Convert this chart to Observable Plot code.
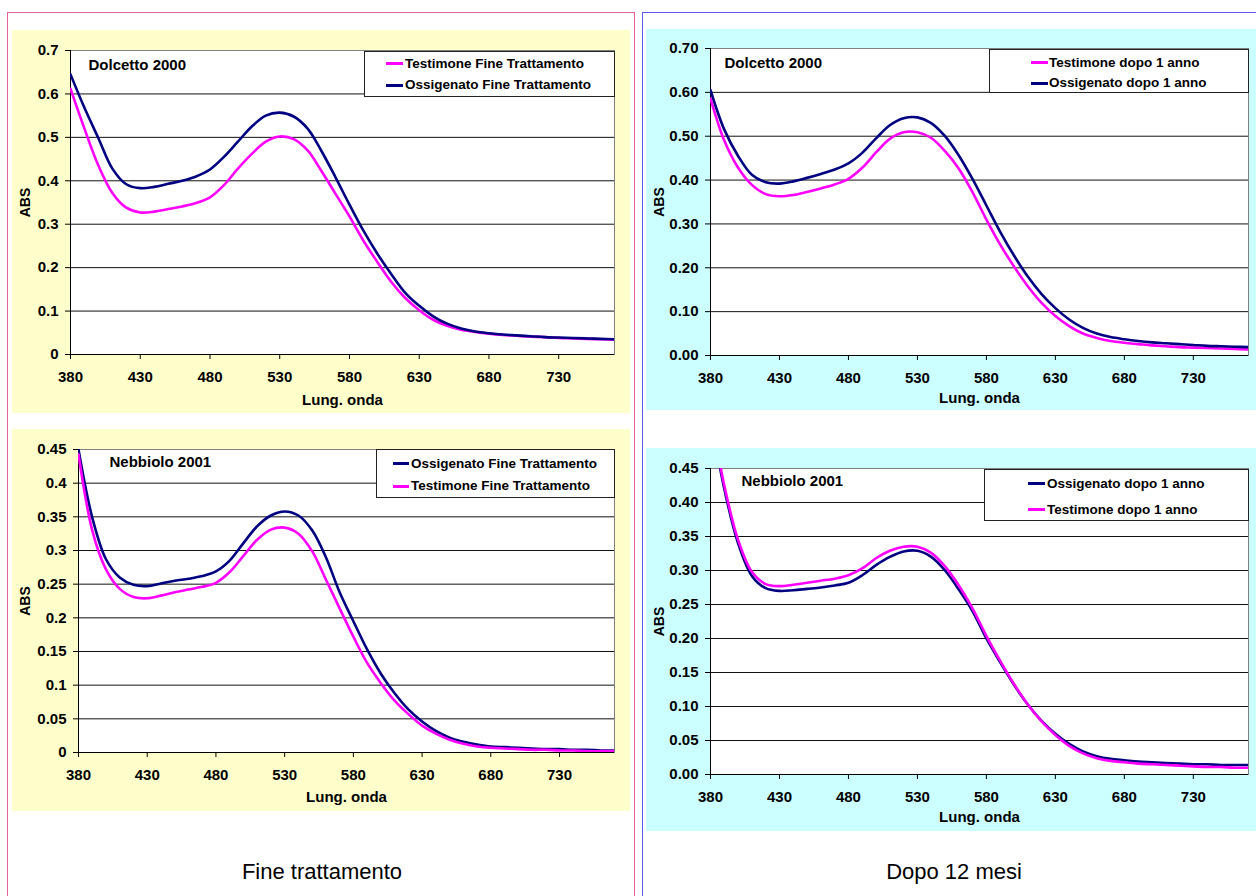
<!DOCTYPE html>
<html>
<head>
<meta charset="utf-8">
<script src="https://cdn.jsdelivr.net/npm/d3@7"></script>
<script src="https://cdn.jsdelivr.net/npm/@observablehq/plot@0.6"></script>
<style>
  html, body { margin: 0; padding: 0; background: #fff; }
  body { width: 1256px; height: 896px; position: relative; overflow: hidden;
         font-family: Arial, "Liberation Sans", sans-serif; }
  .panel { position: absolute; box-sizing: border-box; }
  .chart { position: absolute; }
  .chart svg { display: block; }
  .chart svg g[aria-label="x-axis tick label"] text,
  .chart svg g[aria-label="y-axis tick label"] text { font-size: 15px; font-weight: bold; }
  .legend { position: absolute; box-sizing: border-box; background: #fff; border: 1px solid #222;
            font-weight: bold; font-size: 13.5px; color: #000; }
  .legend .sw { position: absolute; height: 3px; }
  .legend .lt { position: absolute; white-space: nowrap; line-height: 1; transform: translateY(-50%); }
  .caption { position: absolute; font-size: 22px; color: #000; transform: translate(-50%, -50%); white-space: nowrap; }
</style>
</head>
<body>
<div class="panel" style="left:7px;top:12px;width:628px;height:900px;border:1.5px solid #E2619B;"></div>
<div class="panel" style="left:642px;top:12px;width:640px;height:900px;border:1.5px solid #5B5BF0;"></div>
<div class="caption" style="left:322px;top:872px;">Fine trattamento</div>
<div class="caption" style="left:954px;top:872px;">Dopo 12 mesi</div>
<script>
// ---- data ----
const wavelength = [380,390,400,410,420,430,440,450,460,470,480,490,500,510,520,530,540,550,560,570,580,590,600,610,620,630,640,650,660,670,680,690,700,710,720,730,740,750,760,770];
const xTickValues = [380,430,480,530,580,630,680,730];

// Dolcetto 2000 - Fine trattamento
const dolcettoTestimoneFine = [0.612,0.520,0.435,0.372,0.338,0.327,0.329,0.335,0.341,0.349,0.362,0.390,0.428,0.462,0.490,0.502,0.496,0.470,0.422,0.370,0.318,0.262,0.213,0.167,0.130,0.102,0.080,0.066,0.057,0.052,0.048,0.045,0.043,0.041,0.040,0.038,0.037,0.036,0.035,0.034];
const dolcettoOssigenatoFine = [0.645,0.568,0.498,0.428,0.392,0.383,0.386,0.393,0.400,0.410,0.426,0.455,0.490,0.525,0.550,0.557,0.548,0.520,0.468,0.408,0.345,0.285,0.232,0.185,0.142,0.112,0.088,0.071,0.060,0.053,0.049,0.046,0.044,0.042,0.040,0.039,0.038,0.037,0.036,0.035];
// Nebbiolo 2001 - Fine trattamento
const nebbioloOssigenatoFine = [0.450,0.349,0.287,0.260,0.249,0.247,0.251,0.255,0.258,0.262,0.269,0.285,0.311,0.336,0.352,0.358,0.352,0.330,0.290,0.238,0.195,0.153,0.117,0.088,0.064,0.046,0.032,0.022,0.016,0.012,0.009,0.008,0.007,0.006,0.005,0.005,0.004,0.004,0.003,0.003];
const nebbioloTestimoneFine = [0.443,0.330,0.272,0.243,0.231,0.229,0.233,0.238,0.242,0.246,0.252,0.268,0.292,0.316,0.331,0.334,0.325,0.299,0.257,0.214,0.172,0.133,0.103,0.077,0.057,0.040,0.028,0.019,0.013,0.009,0.007,0.006,0.005,0.004,0.004,0.003,0.003,0.002,0.002,0.002];
// Dolcetto 2000 - dopo 1 anno
const dolcettoTestimone12 = [0.586,0.490,0.428,0.389,0.368,0.363,0.366,0.373,0.381,0.390,0.403,0.428,0.463,0.494,0.509,0.509,0.496,0.466,0.426,0.372,0.310,0.253,0.203,0.158,0.120,0.090,0.067,0.050,0.040,0.033,0.029,0.026,0.023,0.021,0.019,0.018,0.017,0.016,0.015,0.014];
const dolcettoOssigenato12 = [0.605,0.515,0.455,0.412,0.395,0.392,0.397,0.405,0.414,0.424,0.438,0.462,0.495,0.525,0.541,0.543,0.530,0.500,0.456,0.402,0.342,0.282,0.228,0.180,0.140,0.108,0.082,0.063,0.050,0.042,0.037,0.033,0.030,0.028,0.026,0.024,0.022,0.021,0.020,0.019];
// Nebbiolo 2001 - dopo 1 anno
const nebbioloOssigenato12 = [0.530,0.420,0.340,0.292,0.274,0.270,0.271,0.273,0.275,0.278,0.282,0.293,0.308,0.320,0.328,0.329,0.320,0.300,0.272,0.240,0.200,0.165,0.132,0.103,0.079,0.060,0.045,0.034,0.027,0.023,0.021,0.019,0.018,0.017,0.016,0.015,0.015,0.014,0.014,0.014];
const nebbioloTestimone12 = [0.535,0.425,0.345,0.298,0.280,0.277,0.279,0.282,0.285,0.288,0.293,0.303,0.318,0.329,0.335,0.335,0.326,0.306,0.278,0.244,0.204,0.167,0.133,0.103,0.078,0.058,0.042,0.031,0.024,0.020,0.018,0.016,0.015,0.014,0.013,0.012,0.011,0.011,0.010,0.010];

const yTicks07 = [0,0.1,0.2,0.3,0.4,0.5,0.6,0.7];
const yTicks045 = [0,0.05,0.1,0.15,0.2,0.25,0.3,0.35,0.4,0.45];

const MAGENTA = "#FF00FF";
const NAVY = "#000080";

const fmtShort = d => String(+d.toFixed(2));
const fmtFixed = d => d.toFixed(2);

function build(cfg) {
  const rows = [];
  cfg.series.forEach(s => s.values.forEach((v, i) => rows.push({wl: wavelength[i], abs: v, name: s.name})));
  const yMax = cfg.yTicks[cfg.yTicks.length - 1];
  const plot = Plot.plot({
    width: cfg.w, height: cfg.h,
    marginLeft: cfg.ml, marginTop: cfg.mt, marginRight: cfg.mr, marginBottom: cfg.mb,
    style: {background: cfg.bg, fontFamily: 'Arial, "Liberation Sans", sans-serif', fontSize: "15px", fontWeight: "bold", color: "#000", overflow: "visible"},
    x: {domain: [380, 770], label: null},
    y: {domain: [0, yMax], label: null},
    color: {domain: cfg.series.map(s => s.name), range: cfg.series.map(s => s.color)},
    marks: [
      Plot.frame({fill: "white", stroke: "#808080", strokeWidth: 1}),
      Plot.ruleY(cfg.yTicks.filter(t => t > 0 && t < yMax), {stroke: "#111", strokeWidth: 1}),
      Plot.axisX({ticks: xTickValues, tickFormat: d => String(d), tickSize: 5, tickPadding: 12, label: null, stroke: "#000", fontSize: 15}),
      Plot.axisY({ticks: cfg.yTicks, tickFormat: cfg.yFmt, tickSize: 5, tickPadding: 7, label: null, stroke: "#000", fontSize: 15}),
      Plot.ruleX([380], {stroke: "#000", strokeWidth: 1}),
      Plot.ruleY([0], {stroke: "#000", strokeWidth: 1}),
      Plot.line(rows, {x: "wl", y: "abs", z: "name", stroke: "name", strokeWidth: 2.6, curve: "catmull-rom", clip: true}),
      Plot.text([cfg.title], {text: d => d, frameAnchor: "top-left", dx: cfg.tdx, dy: cfg.tdy, textAnchor: "start", lineAnchor: "middle", fontSize: 15, fontWeight: "bold"}),
      Plot.text(["ABS"], {text: d => d, frameAnchor: "left", dx: cfg.adx, rotate: -90, textAnchor: "middle", lineAnchor: "middle", fontSize: 14, fontWeight: "bold"}),
      Plot.text(["Lung. onda"], {text: d => d, frameAnchor: "bottom", dy: cfg.ldy, textAnchor: "middle", lineAnchor: "middle", fontSize: 15, fontWeight: "bold"})
    ]
  });
  const holder = document.createElement("div");
  holder.className = "chart";
  holder.style.left = cfg.x + "px";
  holder.style.top = cfg.y + "px";
  holder.appendChild(plot);
  document.body.appendChild(holder);

  // legend box
  const lg = document.createElement("div");
  lg.className = "legend";
  const L = cfg.legend;
  lg.style.left = L.x + "px"; lg.style.top = L.y + "px";
  lg.style.width = L.w + "px"; lg.style.height = L.h + "px";
  L.order.forEach((idx, k) => {
    const s = cfg.series[idx];
    const sw = document.createElement("div");
    sw.className = "sw";
    sw.style.left = L.sx + "px"; sw.style.width = L.sw + "px";
    sw.style.top = (L.rows[k] - 1.5) + "px";
    sw.style.background = s.color;
    const t = document.createElement("div");
    t.className = "lt";
    t.style.left = L.tx + "px"; t.style.top = L.rows[k] + "px";
    t.textContent = s.name;
    lg.appendChild(sw); lg.appendChild(t);
  });
  document.body.appendChild(lg);
}

build({
  x: 12, y: 30, w: 618, h: 383, ml: 58, mt: 20, mr: 16, mb: 59, bg: "#FFFFCC",
  yTicks: yTicks07, yFmt: fmtShort, title: "Dolcetto 2000", tdx: 18, tdy: 15, adx: -45, ldy: 46,
  series: [
    {name: "Testimone Fine Trattamento", values: dolcettoTestimoneFine, color: MAGENTA},
    {name: "Ossigenato Fine Trattamento", values: dolcettoOssigenatoFine, color: NAVY}
  ],
  legend: {x: 364, y: 51, w: 251, h: 46, sx: 21, sw: 17, tx: 40, rows: [11.5, 33], order: [0, 1]}
});
build({
  x: 646, y: 29, w: 610, h: 381, ml: 64, mt: 19, mr: 8, mb: 55, bg: "#CCFFFF",
  yTicks: [0,0.1,0.2,0.3,0.4,0.5,0.6,0.7], yFmt: fmtFixed, title: "Dolcetto 2000", tdx: 14, tdy: 14.5, adx: -51, ldy: 43,
  series: [
    {name: "Testimone dopo 1 anno", values: dolcettoTestimone12, color: MAGENTA},
    {name: "Ossigenato dopo 1 anno", values: dolcettoOssigenato12, color: NAVY}
  ],
  legend: {x: 989, y: 49, w: 260, h: 44, sx: 41, sw: 17, tx: 59, rows: [12.5, 33], order: [0, 1]}
});
build({
  x: 12, y: 429, w: 618, h: 382, ml: 66, mt: 20, mr: 16, mb: 59, bg: "#FFFFCC",
  yTicks: yTicks045, yFmt: fmtShort, title: "Nebbiolo 2001", tdx: 31, tdy: 13, adx: -53, ldy: 45,
  series: [
    {name: "Ossigenato Fine Trattamento", values: nebbioloOssigenatoFine, color: NAVY},
    {name: "Testimone Fine Trattamento", values: nebbioloTestimoneFine, color: MAGENTA}
  ],
  legend: {x: 376, y: 449, w: 239, h: 49, sx: 16, sw: 16, tx: 34, rows: [13.5, 36], order: [0, 1]}
});
build({
  x: 646, y: 448, w: 610, h: 383, ml: 64, mt: 20, mr: 8, mb: 57, bg: "#CCFFFF",
  yTicks: yTicks045, yFmt: fmtFixed, title: "Nebbiolo 2001", tdx: 31, tdy: 12.5, adx: -51, ldy: 42.5,
  series: [
    {name: "Ossigenato dopo 1 anno", values: nebbioloOssigenato12, color: NAVY},
    {name: "Testimone dopo 1 anno", values: nebbioloTestimone12, color: MAGENTA}
  ],
  legend: {x: 984, y: 469, w: 265, h: 52, sx: 43, sw: 17, tx: 62, rows: [13.5, 39.5], order: [0, 1]}
});
</script>
</body>
</html>
